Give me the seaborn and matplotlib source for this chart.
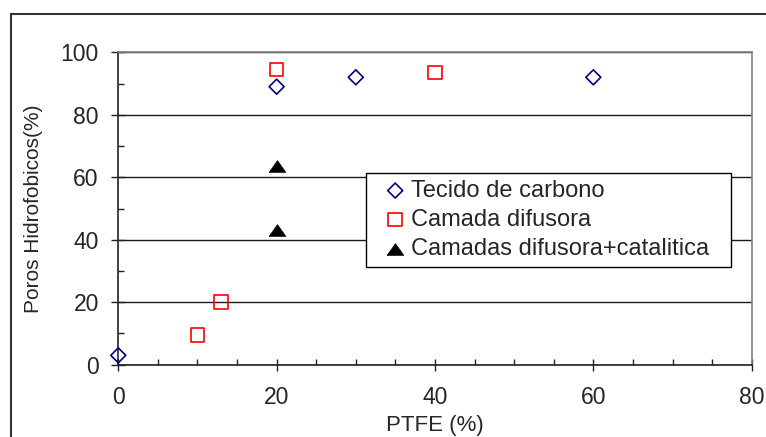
import numpy as np
import pandas as pd
import matplotlib
matplotlib.use("Agg")
import matplotlib.pyplot as plt
import seaborn as sns
from matplotlib.patches import Rectangle
from matplotlib.ticker import MultipleLocator

# ---- data ----
ptfe_tecido = [0, 20, 30, 60]
hidro_tecido = [3, 89, 92, 92]
ptfe_camada = [10, 13, 20, 40]
hidro_camada = [9.5, 20, 94.5, 93.5]
ptfe_cat = [20, 20]
hidro_cat = [63.5, 43]
labels = ["Tecido de carbono", "Camada difusora", "Camadas difusora+catalitica"]
x_ticks = [0, 20, 40, 60, 80]
y_ticks = [0, 20, 40, 60, 80, 100]

sns.set_style("white")
plt.rcParams["font.family"] = ["Liberation Sans", "DejaVu Sans"]

fig = plt.figure(figsize=(7.66, 4.37), dpi=100)
ax = fig.add_axes([0.1544, 0.1654, 0.8269, 0.7149])

tri = np.array([[-1, -0.7], [1, -0.7], [0, 0.7], [-1, -0.7]])

sns.scatterplot(x=ptfe_tecido, y=hidro_tecido, marker="D", s=58,
                facecolor="none", edgecolor="#000080", linewidth=1.2,
                label=labels[0], ax=ax, zorder=3, clip_on=False)
sns.scatterplot(x=ptfe_camada, y=hidro_camada, marker="s", s=96,
                facecolor="none", edgecolor="#ff0000", linewidth=1.2,
                label=labels[1], ax=ax, zorder=3, clip_on=False)
sns.scatterplot(x=ptfe_cat, y=hidro_cat, marker=tri, s=144,
                facecolor="black", edgecolor="black", linewidth=0.5,
                label=labels[2], ax=ax, zorder=3, clip_on=False)

ax.set_xlim(0, 80)
ax.set_ylim(0, 100)
ax.set_xticks(x_ticks)
ax.set_yticks(y_ticks)
ax.xaxis.set_minor_locator(MultipleLocator(5))
ax.yaxis.set_minor_locator(MultipleLocator(10))

ax.tick_params(axis="x", which="major", direction="inout", length=9, width=1,
               pad=11, labelsize=16.5, color="#222222", bottom=True)
ax.tick_params(axis="x", which="minor", direction="in", length=4, width=1,
               color="#222222", bottom=True)
ax.tick_params(axis="y", which="major", direction="inout", length=10, width=1,
               pad=9, labelsize=16.5, color="#222222", left=True)
ax.tick_params(axis="y", which="minor", direction="in", length=4.3, width=1,
               color="#222222", left=True)

ax.set_axisbelow(True)
ax.yaxis.grid(True, which="major", color="#1a1a1a", linewidth=1)
ax.xaxis.grid(False)

for s in ["left", "bottom"]:
    ax.spines[s].set_color("#222222")
    ax.spines[s].set_linewidth(1.2)
for s in ["top", "right"]:
    ax.spines[s].set_color("#808080")
    ax.spines[s].set_linewidth(1.2)

ax.set_xlabel("PTFE (%)", fontsize=16, labelpad=4)
ax.set_ylabel("Poros Hidrofobicos(%)", fontsize=15, labelpad=13)

leg = ax.legend(loc="upper left", bbox_to_anchor=(0.3906, 0.316, 0.5763, 0.2987),
                mode="expand", borderaxespad=0, fontsize=17, frameon=True,
                fancybox=False, edgecolor="black", framealpha=1,
                handlelength=1.9, handletextpad=-0.3, borderpad=0.3,
                labelspacing=0.3)
leg.get_frame().set_linewidth(1)

fig.add_artist(Rectangle((11 / 766, -0.05), 1.0, 1 - 14 / 437 + 0.05,
                         transform=fig.transFigure, fill=False,
                         edgecolor="#333333", linewidth=1.5))

fig.savefig("out.png", dpi=100)
